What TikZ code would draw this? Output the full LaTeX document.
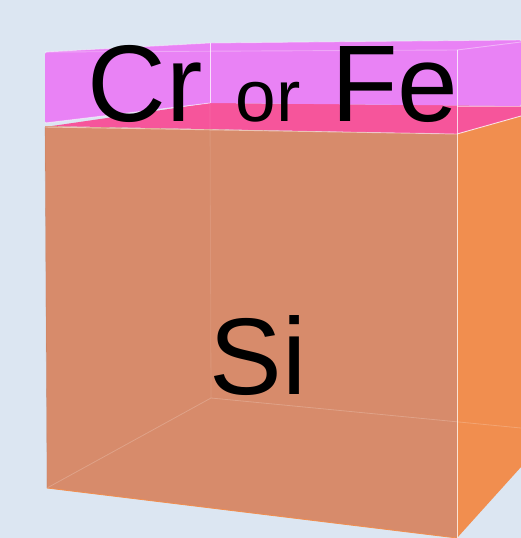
\documentclass[tikz,border=0pt]{standalone}
\usepackage{fontspec}
\setmainfont{Liberation Sans}
\definecolor{bg}{RGB}{220,230,242}
\definecolor{siface}{RGB}{215,139,107}
\definecolor{siside}{RGB}{241,142,79}
\definecolor{film}{RGB}{233,130,245}
\definecolor{filmbase}{RGB}{246,85,155}
\tikzset{
  edge/.style={draw=white, draw opacity=0.75, line width=0.9pt},
  faintedge/.style={draw=white, draw opacity=0.2, line width=0.8pt},
  bigtext/.style={inner sep=0pt, anchor=base west, font=\fontsize{109}{109}\selectfont},
  smalltext/.style={inner sep=0pt, anchor=base west, font=\fontsize{73}{73}\selectfont}
}
\begin{document}
\begin{tikzpicture}[x=1pt,y=-1pt]
\useasboundingbox (0,0) rectangle (521,538);
\fill[bg] (0,0) rectangle (521,538);
% Si cube
\fill[siface] (45,126) -- (457,134) -- (457,538) -- (47,488) -- cycle;
\fill[siside] (457,134) -- (521,116) -- (521,467) -- (457,538) -- cycle;
% top of cube under film
\fill[filmbase] (52,126) -- (210,103) -- (521,106) -- (521,116) -- (457,134) -- cycle;
% film slab
\fill[film, rounded corners=2pt] (45,52) -- (210,43) -- (521,40) -- (521,106) -- (210,103) -- (45,123) -- cycle;
% hidden edges
\path[faintedge, draw opacity=0.1] (210,103) -- (211,398);
\path[faintedge] (211,398) -- (47,488);
\path[faintedge] (211,398) -- (521,428);
% visible edges
\path[edge] (457,50) -- (457,538);
\path[edge] (457,134) -- (521,116);
\path[edge, draw opacity=0.5] (45,127) -- (457,134);
\path[edge] (210,43) -- (210,103);
\path[edge, draw opacity=0.5] (45,123) -- (210,103);
\path[edge, draw opacity=0.4] (457,50) -- (521,42);
\path[edge, draw opacity=0.3] (45,52) -- (457,50);
\path[edge, draw opacity=0.5] (457,106) -- (521,106);
\path[edge, draw opacity=0.4] (45,52) -- (210,43) -- (521,40);
\path[draw=siside, line width=0.8pt] (47,488) -- (457,538);
\path[draw=siface!80!black, draw opacity=0.3, line width=0.6pt] (45,127) -- (47,488);
% labels
\node[bigtext] (cr) at (87.5,121) {Cr};
\node[smalltext] (or) at (235.5,121) {or};
\node[bigtext] (fe) at (331,121) {Fe};
\node[bigtext] (si) at (209.6,394) {Si};
\end{tikzpicture}
\end{document}
